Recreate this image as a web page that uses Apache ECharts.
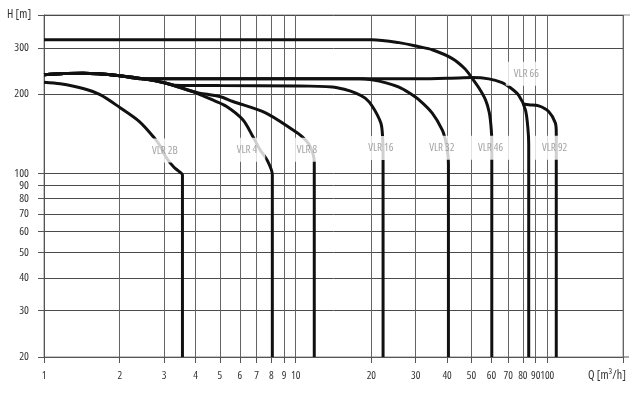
<!DOCTYPE html>
<html>
<head>
<meta charset="utf-8">
<script src="https://cdn.jsdelivr.net/npm/echarts@6/dist/echarts.min.js"></script>
<style>
html,body{margin:0;padding:0;background:#fff;}
#chart{width:640px;height:398px;}
</style>
</head>
<body>
<div id="chart"></div>
<script>
// Q [m3/h] tick values and labels (the frame at 200 carries no text)
const xTicks = [1, 2, 3, 4, 5, 6, 7, 8, 9, 10, 20, 30, 40, 50, 60, 70, 80, 90, 100, 200];
const xLabels = [1, 2, 3, 4, 5, 6, 7, 8, 9, 10, 20, 30, 40, 50, 60, 70, 80, 90, 100];
const xFrameEnd = 200;
// H [m] tick values and labels
const yTicks = [20, 30, 40, 50, 60, 70, 80, 90, 100, 200, 300, 400];
const yLabels = [20, 30, 40, 50, 60, 70, 80, 90, 100, 200, 300];

// pump curves [Q, H]
const vlr2B = [[1, 222], [1.16, 219], [1.43, 210], [1.67, 199], [2.0, 178], [2.4, 157], [2.75, 136], [2.91, 126], [3.04, 116], [3.16, 110], [3.3, 105], [3.4, 102.5], [3.55, 98.5], [3.55, 90], [3.55, 20]];
const vlr4 = [[1, 237], [1.2, 239.5], [1.43, 240], [2.0, 235], [2.63, 226.6], [3.06, 220], [3.9, 204.6], [4.15, 199.6], [4.68, 190], [5.3, 179.8], [6.17, 159.7], [6.76, 138], [7.18, 124], [7.75, 111], [8.08, 98.7], [8.08, 90], [8.08, 20]];
const vlr8 = [[1, 237], [1.2, 239.5], [1.43, 240], [2.0, 235], [2.63, 226.6], [3.06, 220], [3.9, 204.6], [4.15, 201.8], [4.99, 195.8], [5.63, 187.5], [7.63, 169.4], [9.73, 146.3], [10.66, 137.3], [11.33, 128.3], [11.75, 117.5], [11.86, 110.6], [11.86, 100], [11.86, 20]];
const vlr16 = [[1, 237], [1.2, 239.5], [1.43, 240], [2.0, 235], [2.63, 226.6], [3.06, 220], [3.3, 216.4], [4.99, 215.6], [10.34, 215], [13.98, 213], [15.6, 208.6], [17.35, 201.8], [18.9, 193], [20.2, 179.5], [21.81, 155.2], [22.16, 137.7], [22.26, 112.5], [22.26, 100], [22.26, 20]];
const vlr32 = [[1, 237], [1.2, 239.5], [1.43, 240], [2.0, 235], [2.4, 229], [4.99, 228.6], [10.34, 229], [17.89, 229], [20.09, 226.6], [22.88, 220.8], [25.76, 212.6], [28.23, 202.3], [30.93, 190.2], [34.91, 169.4], [38.24, 146.3], [39.56, 131.7], [40.29, 117.5], [40.48, 107.7], [40.48, 95], [40.48, 20]];
const vlr46 = [[1, 322], [10, 322], [20.09, 322], [25.76, 314], [30.93, 303], [34.91, 295], [41.8, 273.6], [47.06, 249.8], [50.15, 230.6], [53.46, 211.4], [56.84, 190.2], [58.85, 169.9], [59.93, 146.3], [60.2, 128.3], [60.2, 110], [60.2, 20]];
const vlr66 = [[1, 237], [1.2, 239.5], [1.43, 240], [2.0, 235], [2.4, 229], [4.99, 228.6], [10.34, 229], [20.09, 229], [30.93, 229], [44.55, 230.6], [50.29, 231.2], [58.58, 228.6], [66.15, 221.4], [70.31, 213.8], [77.03, 197.9], [81.9, 174.3], [83.87, 146.3], [84.4, 128.3], [84.4, 110], [84.4, 20]];
const vlr92 = [[79.9, 183.8], [84.4, 182.2], [92.5, 180.5], [101.3, 171.8], [107.7, 155.2], [108.6, 142], [108.6, 125], [108.6, 20]];

// curve labels
const labelNames = ['VLR 2B', 'VLR 4', 'VLR 8', 'VLR 16', 'VLR 32', 'VLR 46', 'VLR 66', 'VLR 92'];
const labelQ = [3.02, 6.41, 11.1, 21.8, 38.1, 59.5, 82.6, 107];
const labelH = [122, 123, 123, 124.7, 125, 125, 239, 125];

const curves = [vlr2B, vlr4, vlr8, vlr16, vlr32, vlr46, vlr66, vlr92];
const FAMILY = '"Open Sans", "DejaVu Sans", sans-serif';
const STRETCH = 'condensed';

const chart = echarts.init(document.getElementById('chart'), null, {renderer: 'canvas'});
const series = curves.map(function (c) {
  return {
    type: 'line',
    data: c,
    showSymbol: false,
    symbol: 'none',
    smooth: 0.3,
    lineStyle: {color: '#111', width: 3},
    z: 3,
    silent: true
  };
});
series.push({
  type: 'scatter',
  symbolSize: 0,
  zlevel: 1,
  z: 10,
  data: labelNames.map(function (n, i) { return {name: n, value: [labelQ[i], labelH[i]]}; }),
  label: {
    show: true,
    position: 'inside',
    formatter: '{b}',
    color: '#8c8c8c',
    fontSize: 11,
    fontStyle: STRETCH,
    fontFamily: FAMILY,
    backgroundColor: '#fff',
    padding: [7, 8, 6, 8]
  },
  silent: true
});

const titleTexts = [
  {type: 'text', left: 7, top: 9, style: {text: 'H [m]', fill: '#333', font: STRETCH + ' 12px ' + FAMILY}},
  {type: 'text', left: 588, top: 370, style: {text: 'Q [m³/h]', fill: '#333', font: STRETCH + ' 12px ' + FAMILY}}
];

chart.setOption({
  animation: false,
  backgroundColor: '#fff',
  grid: {left: 44, right: 17, top: 15, bottom: 41, show: true, borderColor: '#8a8a8a', borderWidth: 1},
  xAxis: {
    type: 'log', logBase: 10, min: 1, max: xFrameEnd,
    axisLine: {show: true, lineStyle: {color: '#555', width: 1}},
    axisTick: {show: true, length: 6, customValues: xTicks, lineStyle: {color: '#555'}},
    axisLabel: {
      customValues: xLabels.concat([xFrameEnd]),
      formatter: function (v) { return xLabels.indexOf(v) >= 0 ? String(v) : ''; },
      showMinLabel: true, showMaxLabel: true, hideOverlap: false,
      color: '#333', fontSize: 11, fontStyle: STRETCH, fontFamily: FAMILY, margin: 13
    },
    splitLine: {show: true, lineStyle: {color: '#646464', width: 1}},
    minorTick: {show: false}, minorSplitLine: {show: false}
  },
  yAxis: {
    type: 'log', logBase: 10, min: 20, max: 400,
    axisLine: {show: true, lineStyle: {color: '#555', width: 1}},
    axisTick: {show: true, length: 6, customValues: yTicks, lineStyle: {color: '#555'}},
    axisLabel: {customValues: yLabels, showMinLabel: true, showMaxLabel: true, hideOverlap: false,
      color: '#333', fontSize: 11.5, fontStyle: STRETCH, fontFamily: FAMILY, margin: 15},
    splitLine: {show: true, lineStyle: {color: '#4a4a4a', width: 1}},
    minorTick: {show: false}, minorSplitLine: {show: false}
  },
  graphic: titleTexts,
  series: series
});

// short extensions of the top frame line and the Q axis line past the right frame
const pTop = chart.convertToPixel({gridIndex: 0}, [xFrameEnd, 400]);
const pBot = chart.convertToPixel({gridIndex: 0}, [xFrameEnd, 20]);
chart.setOption({
  graphic: titleTexts.concat([
    {type: 'line', shape: {x1: pTop[0], y1: pTop[1], x2: pTop[0] + 7, y2: pTop[1]}, style: {stroke: '#8a8a8a', lineWidth: 1}},
    {type: 'line', shape: {x1: pBot[0], y1: pBot[1], x2: pBot[0] + 6, y2: pBot[1]}, style: {stroke: '#555', lineWidth: 1}}
  ])
});
</script>
</body>
</html>
